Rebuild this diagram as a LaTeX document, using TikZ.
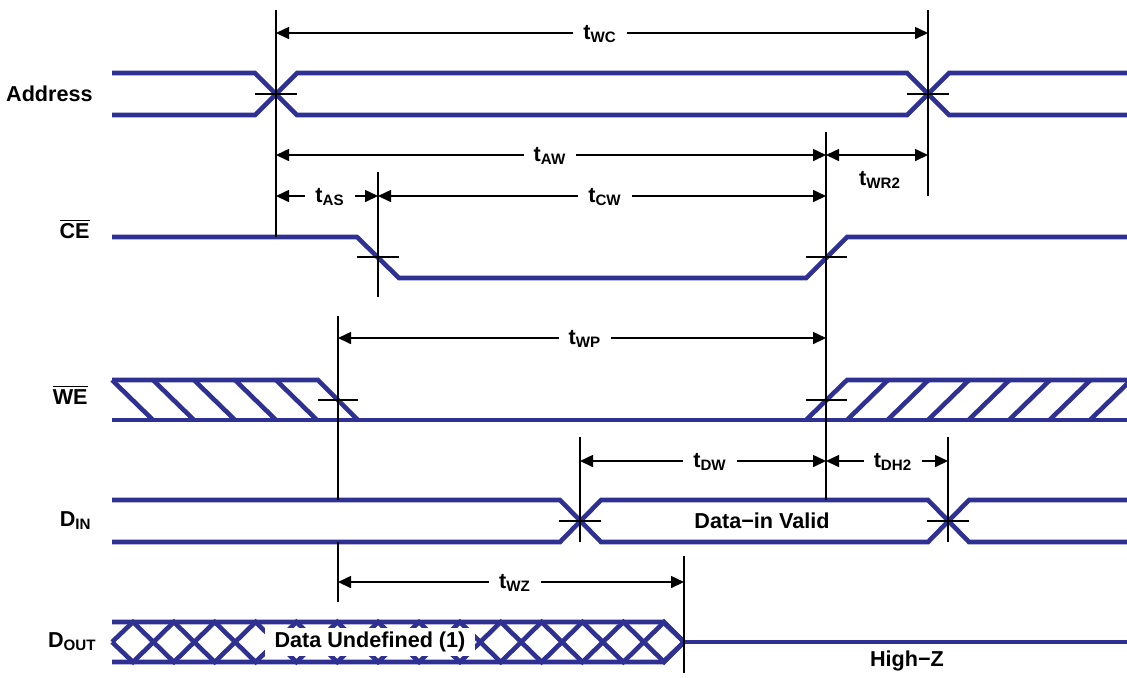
\documentclass[tikz,border=0pt]{standalone}
\usepackage{fontspec}
\setmainfont{Liberation Sans}
\usetikzlibrary{arrows.meta}
\definecolor{sigblue}{RGB}{46,49,146}

\begin{document}
\begin{tikzpicture}[x=0.5pt,y=-0.5pt,
    sig/.style={draw=sigblue,line width=2.3pt},
    guide/.style={line width=0.8pt},
    span/.style={line width=0.8pt,{Triangle[length=6.5pt,width=6pt]}-{Triangle[length=6.5pt,width=6pt]}},
    tname/.style={fill=white,inner xsep=5pt,inner ysep=1pt,anchor=base},
    signame/.style={inner sep=0pt,anchor=base east},
    every node/.style={font=\fontsize{10.8}{12}\selectfont\bfseries}]
        \useasboundingbox (0,0) rectangle (1127,677);
        % signals
        \draw[sig] (112,73) -- (255,73) -- (297,115) -- (907,115) -- (949,73) -- (1127,73);
        \draw[sig] (112,115) -- (255,115) -- (297,73) -- (907,73) -- (949,115) -- (1127,115);
        \draw[sig] (112,237) -- (357,237) -- (399,278) -- (806,278) -- (847,237) -- (1127,237);
        \draw[sig] (112,380) -- (318,380) -- (358,420);
        \draw[sig] (112,420) -- (1127,420);
        \draw[sig] (806,420) -- (847,380) -- (1127,380);
        \foreach \k in {0,...,4}
            \draw[sig] ({112+41*\k},380) -- ({153+41*\k},420);
        \begin{scope}
            \clip (112,360) rectangle (1127,440);
            \foreach \k in {0,...,6}
                \draw[sig] ({847+40.5*\k},420) -- ({888+40.5*\k},380);
        \end{scope}
        \draw[sig] (112,500) -- (560,500) -- (601,542) -- (928,542) -- (969,500) -- (1127,500);
        \draw[sig] (112,542) -- (560,542) -- (601,500) -- (928,500) -- (969,542) -- (1127,542);
        \draw[sig] (112,622) -- (663,622) -- (684,642) -- (663,662) -- (112,662);
        \draw[sig] (112,642) \foreach \j in {0,...,13} { -- ({133+40.86*\j},{622+40*mod(\j,2)}) } -- (684,642);
        \draw[sig] (112,642) \foreach \j in {0,...,13} { -- ({133+40.86*\j},{662-40*mod(\j,2)}) } -- (684,642);
        \draw[sig] (684,642) -- (1127,642);
        \node[fill=white,inner sep=0pt,minimum width=105pt,minimum height=14pt] (undef) at (370,642) {Data Undefined (1)};
        % guides and crossing ticks
        \draw[guide] (276,10) -- (276,237);
        \draw[guide] (928,10) -- (928,196);
        \draw[guide] (378,172) -- (378,297);
        \draw[guide] (826,132) -- (826,500);
        \draw[guide] (338,316) -- (338,500) (338,542) -- (338,602);
        \draw[guide] (580,437) -- (580,542);
        \draw[guide] (948,437) -- (948,542);
        \draw[guide] (684,556) -- (684,673);
        \draw[guide] (255,94) -- (297,94) (907,94) -- (949,94);
        \draw[guide] (357,257) -- (399,257) (806,257) -- (847,257);
        \draw[guide] (318,400) -- (358,400) (806,400) -- (847,400);
        \draw[guide] (559,521) -- (601,521) (927,521) -- (969,521);
        % timing spans
        \coordinate (wcL) at (276,33);
        \coordinate (wcR) at (928,33);
        \coordinate (awL) at (276,155);
        \coordinate (awR) at (826,155);
        \coordinate (wrR) at (928,155);
        \coordinate (asL) at (276,196);
        \coordinate (asR) at (378,196);
        \coordinate (cwR) at (826,196);
        \coordinate (wpL) at (338,338);
        \coordinate (wpR) at (826,338);
        \coordinate (dwL) at (580,461);
        \coordinate (dwR) at (826,461);
        \coordinate (dhR) at (948,461);
        \coordinate (wzL) at (338,582);
        \coordinate (wzR) at (684,582);
        \draw[span] (wcL) -- (wcR);
        \draw[span] (awL) -- (awR);
        \draw[span] (awR) -- (wrR);
        \draw[span] (asL) -- (asR);
        \draw[span] (asR) -- (cwR);
        \draw[span] (wpL) -- (wpR);
        \draw[span] (dwL) -- (dwR);
        \draw[span] (dwR) -- (dhR);
        \draw[span] (wzL) -- (wzR);
        \node[tname] (twc) at (600,39) {t\textsubscript{WC}};
        \node[tname] (taw) at (550,161) {t\textsubscript{AW}};
        \node[tname,fill=none] (twr) at (880,185) {t\textsubscript{WR2}};
        \node[tname] (tas) at (330,202) {t\textsubscript{AS}};
        \node[tname] (tcw) at (605,202) {t\textsubscript{CW}};
        \node[tname] (twp) at (585,344) {t\textsubscript{WP}};
        \node[tname] (tdw) at (710,467) {t\textsubscript{DW}};
        \node[tname] (tdh) at (893,467) {t\textsubscript{DH2}};
        \node[tname] (twz) at (515,588) {t\textsubscript{WZ}};
        % names and texts
        \node[signame] (address) at (93,101) {Address};
        \node[signame] (ce) at (90,238) {$\overline{\mbox{CE}}$};
        \node[signame] (we) at (88,404) {$\overline{\mbox{WE}}$};
        \node[signame] (din) at (92,526) {D\textsubscript{IN}};
        \node[signame] (dout) at (97,647) {D\textsubscript{OUT}};
        \node (valid) at (762,521) {Data−in Valid};
        \node (highz) at (907,661) {High−Z};
\end{tikzpicture}
\end{document}
